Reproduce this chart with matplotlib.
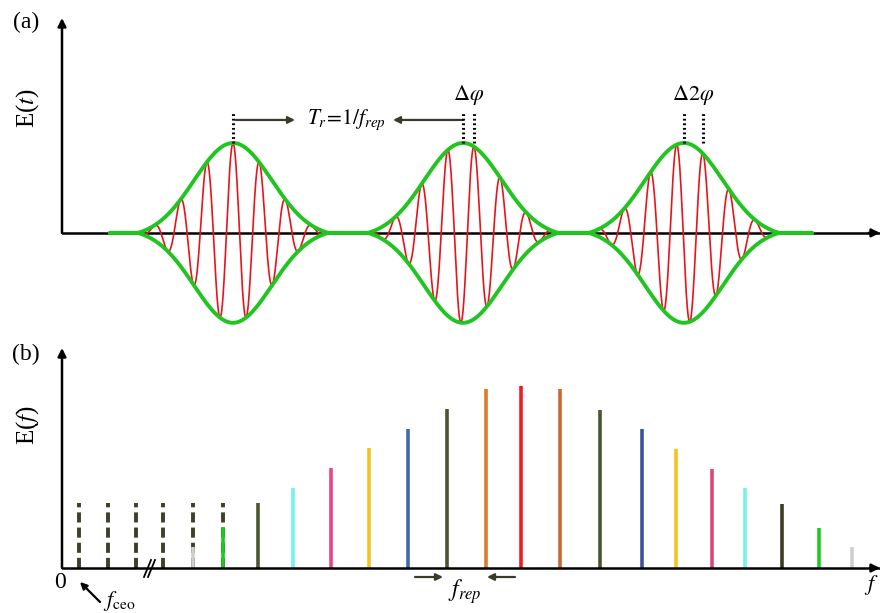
import numpy as np
import matplotlib
matplotlib.use("Agg")
import matplotlib.pyplot as plt

plt.rcParams['font.family'] = ['Liberation Serif', 'DejaVu Serif']
plt.rcParams['mathtext.fontset'] = 'stix'

# ---------------- data: panel (a) pulse train ----------------
pulse_centers = [0.75, 1.759, 2.728]      # envelope peaks (units of time)
carrier_shifts = [0.0, 0.048, 0.083]      # carrier-envelope offset per pulse
pulse_halfwidth = 0.417
env_sigma = 0.241
carrier_period = 0.115
train_extent = [0.21, 3.29]               # flat green line extent
time_axis_max = 3.588
amp_axis_max = 2.39
phase_labels = ['', r'$\Delta\varphi$', r'$\Delta 2\varphi$']

# ---------------- data: panel (b) frequency comb ----------------
dashed_f = [17, 46, 74, 101, 131, 161]
dashed_h = [65, 65, 65, 65, 65, 65]
partial_f = [131, 161]
partial_h = [21, 41]
partial_c = ['#cfcfcf', '#22c822']
comb_f = [196, 231, 269, 307, 346, 385, 424, 459, 498, 538, 580, 614, 650, 683, 720, 757, 790]
comb_h = [65, 80, 100, 120, 139, 159, 179, 182, 179, 158, 139, 119, 99, 80, 64, 40, 21]
comb_c = ['#4b5530', '#74f2ee', '#e8458a', '#f7c21c', '#3f68b0', '#4b5530', '#dd7a2c',
          '#ee1d24', '#c86a30', '#4b5530', '#3d55a0', '#f7c21c', '#e0457a', '#74f2ee',
          '#3c3c20', '#22c822', '#cfcfcf']
freq_axis_max = 818
amp_f_max = 220

W, H = 881, 613
fig = plt.figure(figsize=(W / 100, H / 100), dpi=100)

# ================= panel (a) =================
axa = fig.add_axes([62 / W, (H - 330) / H, 818 / W, 312 / H])
axa.set_xlim(0, time_axis_max)
axa.set_ylim(-1.08, amp_axis_max)
axa.axis('off')

def envelope(t, c):
    g = np.exp(-((t - c) / env_sigma) ** 2)
    ge = np.exp(-(pulse_halfwidth / env_sigma) ** 2)
    e = (g - ge) / (1 - ge)
    e[np.abs(t - c) > pulse_halfwidth] = 0
    return e

t = np.linspace(train_extent[0], train_extent[1], 6000)
env_total = np.zeros_like(t)
for c in pulse_centers:
    env_total += envelope(t, c)

ak = dict(arrowstyle='-|>', lw=1.8, color='black', shrinkA=0, shrinkB=0, mutation_scale=12)
axa.plot([0, time_axis_max], [0, 0], color='black', lw=1.8, zorder=1)
axa.annotate('', xy=(time_axis_max, 0), xytext=(time_axis_max - 0.05, 0), arrowprops=ak)
axa.annotate('', xy=(0, amp_axis_max), xytext=(0, 0), arrowprops=ak)

for c, s in zip(pulse_centers, carrier_shifts):
    tp = np.linspace(c - pulse_halfwidth, c + pulse_halfwidth, 3000)
    e = envelope(tp, c)
    axa.plot(tp, e * np.cos(2 * np.pi * (tp - c - s) / carrier_period),
             color='#e8141c', lw=1.2, zorder=2)

axa.plot(t, env_total, color='#22c422', lw=2.8, zorder=3, solid_capstyle='round')
axa.plot(t, -env_total, color='#22c422', lw=2.8, zorder=3, solid_capstyle='round')

# dotted markers
for c, s in zip(pulse_centers, carrier_shifts):
    xs = [c] if s == 0 else [c, c + s]
    for x in xs:
        axa.plot([x, x], [1.0, 1.34], color='black', lw=2.2,
                 linestyle=(0, (0.6, 0.9)), zorder=4)

# T_r arrows and label
arrk = dict(arrowstyle='-|>', lw=1.6, color='#3a3a28', shrinkA=0, shrinkB=0, mutation_scale=10)
axa.annotate('', xy=(1.022, 1.256), xytext=(0.762, 1.256), arrowprops=arrk)
axa.annotate('', xy=(1.452, 1.256), xytext=(1.759, 1.256), arrowprops=arrk)
axa.text(1.246, 1.256, r'$T_r\!=\!1/f_{rep}$', fontsize=15.5, ha='center', va='center')

for c, s, lab in zip(pulse_centers, carrier_shifts, phase_labels):
    if lab:
        axa.text(c + s / 2, 1.53, lab, fontsize=16, ha='center', va='center')

fig.text(26 / W, 1 - 22 / H, '(a)', fontsize=17, ha='center', va='center')
fig.text(28 / W, 1 - 108 / H, r'E($t$)', fontsize=18, ha='center', va='center', rotation=90)

# ================= panel (b) =================
axb = fig.add_axes([62 / W, 0, 818 / W, (H - 348) / H])
axb.set_xlim(0, freq_axis_max)
axb.set_ylim(-45, amp_f_max)
axb.axis('off')

axb.plot([0, freq_axis_max], [0, 0], color='black', lw=1.8, zorder=5)
axb.annotate('', xy=(freq_axis_max, 0), xytext=(freq_axis_max - 10, 0), arrowprops=ak)
axb.annotate('', xy=(0, amp_f_max), xytext=(0, 0), arrowprops=ak)

axb.vlines(dashed_f, 0, dashed_h, colors='#3a4228', lw=2.8,
           linestyles=(0, (2.6, 1.3)), zorder=3)
axb.vlines(partial_f, 0, partial_h, colors=partial_c, lw=2.6, zorder=4)
axb.vlines(comb_f, 0, comb_h, colors=comb_c, lw=2.6, zorder=2)

# break mark
for dx in (0, 4):
    axb.plot([82 + dx, 89 + dx], [-9, 8], color='black', lw=1.3, zorder=6)

axb.text(-2, -15, '0', fontsize=17, ha='center', va='center')
axb.annotate('', xy=(18, -14), xytext=(38, -34),
             arrowprops=dict(arrowstyle='-|>', lw=1.6, color='black',
                             shrinkA=0, shrinkB=0, mutation_scale=10))
axb.text(41, -33, r'$f_{\mathrm{ceo}}$', fontsize=16, ha='left', va='center')

axb.annotate('', xy=(381, -9), xytext=(353, -9), arrowprops=arrk)
axb.annotate('', xy=(425, -9), xytext=(453, -9), arrowprops=arrk)
axb.text(403, -24, r'$f_{rep}$', fontsize=17, ha='center', va='center')
axb.text(817, -17, r'$f$', fontsize=16, ha='right', va='center')

fig.text(26 / W, 1 - 354 / H, '(b)', fontsize=17, ha='center', va='center')
fig.text(28 / W, 1 - 425 / H, r'E($f$)', fontsize=18, ha='center', va='center', rotation=90)

fig.savefig('out.png', dpi=100)
